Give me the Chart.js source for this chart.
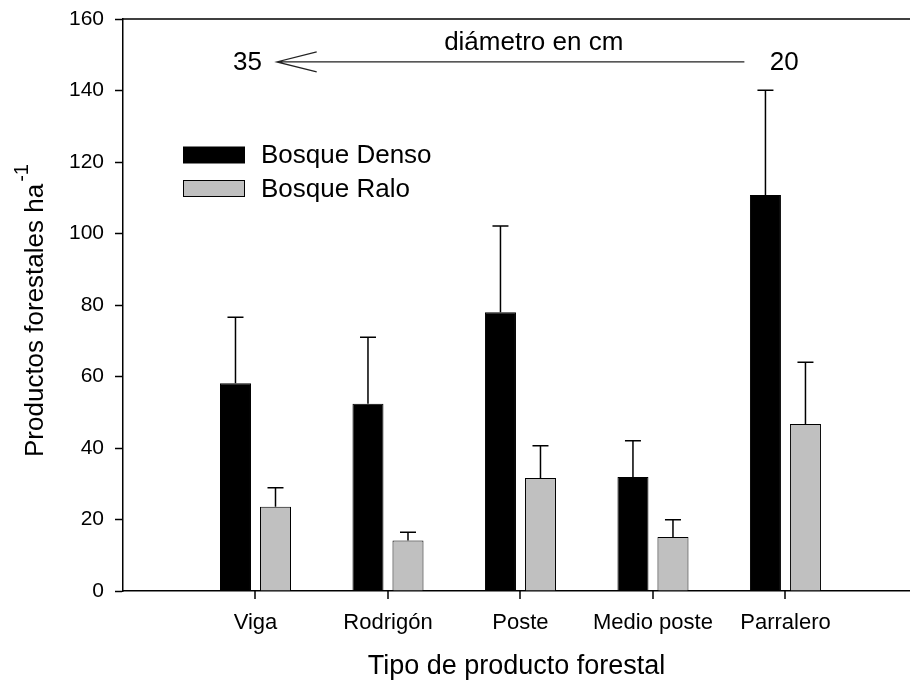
<!DOCTYPE html>
<html>
<head>
<meta charset="utf-8">
<script src="https://cdn.jsdelivr.net/npm/chart.js@4"></script>
<style>
  html, body { margin: 0; padding: 0; background: #fff; }
  canvas { display: block; }
</style>
</head>
<body>
<canvas id="chart" width="910" height="684"></canvas>
<script>
var categories = ['Viga', 'Rodrigón', 'Poste', 'Medio poste', 'Parralero'];
var densoMean = [58.1, 52.4, 78.0, 31.9, 110.8];
var densoErr = [18.5, 18.6, 24.1, 10.1, 29.3];
var raloMean = [23.6, 14.1, 31.6, 15.1, 46.7];
var raloErr = [5.3, 2.3, 9.0, 4.8, 17.3];
var yTicks = [0, 20, 40, 60, 80, 100, 120, 140, 160];

var FONT = '"Liberation Sans", Arial, sans-serif';

function points(vals) {
    return vals.map(function (v, i) { return { x: i + 1, y: v }; });
}

// upper error bars only, cap on top
var errorBars = {
    id: 'errorBars',
    afterDatasetsDraw: function (chart) {
        var ctx = chart.ctx;
        var yScale = chart.scales.y;
        ctx.save();
        ctx.strokeStyle = '#000';
        ctx.lineWidth = 1.5;
        chart.data.datasets.forEach(function (ds, di) {
            var meta = chart.getDatasetMeta(di);
            meta.data.forEach(function (bar, i) {
                var top = yScale.getPixelForValue(ds.data[i].y + ds.errors[i]);
                ctx.beginPath();
                ctx.moveTo(bar.x, bar.y);
                ctx.lineTo(bar.x, top);
                ctx.moveTo(bar.x - 8, top);
                ctx.lineTo(bar.x + 8, top);
                ctx.stroke();
            });
        });
        ctx.restore();
    }
};

var extras = {
    id: 'extras',
    afterDraw: function (chart) {
        var ctx = chart.ctx;
        var a = chart.chartArea;
        var xs = chart.scales.x, ys = chart.scales.y;
        ctx.save();

        // top frame line
        ctx.strokeStyle = '#000';
        ctx.lineWidth = 1.5;
        ctx.beginPath();
        ctx.moveTo(a.left, a.top);
        ctx.lineTo(a.right, a.top);
        ctx.stroke();

        // category tick marks below the axis
        ctx.lineWidth = 1.5;
        ctx.beginPath();
        categories.forEach(function (c, i) {
            var tx = Math.round(xs.getPixelForValue(i + 1));
            ctx.moveTo(tx, a.bottom);
            ctx.lineTo(tx, a.bottom + 8);
        });
        ctx.stroke();

        // diameter arrow annotation
        var ay = ys.getPixelForValue(148);
        var x0 = xs.getPixelForValue(1.16), x1 = xs.getPixelForValue(4.69);
        ctx.strokeStyle = '#222';
        ctx.lineWidth = 1.2;
        ctx.beginPath();
        ctx.moveTo(x1, ay);
        ctx.lineTo(x0, ay);
        ctx.moveTo(x0 + 40, ay - 10);
        ctx.lineTo(x0, ay);
        ctx.lineTo(x0 + 40, ay + 10);
        ctx.stroke();

        ctx.fillStyle = '#000';
        ctx.font = '26px ' + FONT;
        ctx.textAlign = 'center';
        ctx.textBaseline = 'middle';
        ctx.fillText('35', xs.getPixelForValue(0.94), ay + 1);
        ctx.fillText('20', xs.getPixelForValue(4.99), ay + 1);
        ctx.fillText('diámetro en cm', xs.getPixelForValue(3.1), ys.getPixelForValue(153.4));

        // legend
        var items = [['Bosque Denso', '#000000', 155], ['Bosque Ralo', '#c0c0c0', 188.5]];
        ctx.textAlign = 'left';
        items.forEach(function (it) {
            ctx.fillStyle = it[1];
            ctx.fillRect(183.5, it[2] - 8, 61, 16);
            ctx.strokeStyle = '#000';
            ctx.lineWidth = 1;
            ctx.strokeRect(183.5, it[2] - 8, 61, 16);
            ctx.fillStyle = '#000';
            ctx.fillText(it[0], 261, it[2] + 1);
        });

        // y axis title with superscript
        ctx.translate(43, 457);
        ctx.rotate(-Math.PI / 2);
        ctx.textBaseline = 'alphabetic';
        var main = 'Productos forestales ha';
        ctx.font = '26px ' + FONT;
        var mainW = ctx.measureText(main).width;
        ctx.textAlign = 'left';
        ctx.fillText(main, 0, 0);
        ctx.font = '20px ' + FONT;
        ctx.fillText('-1', mainW + 2, -15);
        ctx.restore();
    }
};

new Chart(document.getElementById('chart'), {
    type: 'bar',
    data: {
        datasets: [{
            label: 'Bosque Denso',
            data: points(densoMean),
            errors: densoErr,
            backgroundColor: '#000000',
            borderColor: '#000000',
            borderWidth: 1
        }, {
            label: 'Bosque Ralo',
            data: points(raloMean),
            errors: raloErr,
            backgroundColor: '#c0c0c0',
            borderColor: '#000000',
            borderWidth: 1
        }]
    },
    options: {
        responsive: false,
        animation: false,
        categoryPercentage: 0.604,
        barPercentage: 0.775,
        layout: { padding: { left: 0, top: 19, right: 0, bottom: 0 } },
        plugins: {
            legend: { display: false },
            tooltip: { enabled: false }
        },
        scales: {
            x: {
                type: 'linear',
                min: 0,
                max: 5.94,
                offset: false,
                afterBuildTicks: function (s) {
                    s.ticks = categories.map(function (c, i) { return { value: i + 1 }; });
                },
                afterFit: function (s) {
                    s.height = 93;
                    s.paddingLeft = 0;
                    s.paddingRight = 0;
                },
                ticks: {
                    autoSkip: false,
                    maxRotation: 0,
                    padding: 19,
                    color: '#000',
                    font: { family: FONT, size: 22 },
                    callback: function (v) { return categories[v - 1] || ''; }
                },
                grid: {
                    offset: false,
                    drawOnChartArea: false,
                    drawTicks: false
                },
                border: { color: '#000', width: 1.5 },
                title: {
                    display: true,
                    text: 'Tipo de producto forestal',
                    color: '#000',
                    font: { family: FONT, size: 27 },
                    padding: { top: 0, bottom: 1 }
                }
            },
            y: {
                min: 0,
                max: 160,
                afterBuildTicks: function (s) {
                    s.ticks = yTicks.map(function (v) { return { value: v }; });
                },
                afterFit: function (s) {
                    s.width = 123;
                    s.paddingTop = 0;
                    s.paddingBottom = 0;
                },
                ticks: {
                    padding: 11,
                    color: '#000',
                    font: { family: FONT, size: 21 }
                },
                grid: {
                    drawOnChartArea: false,
                    tickLength: 8,
                    tickWidth: 1.5,
                    tickColor: '#000'
                },
                border: { color: '#000', width: 1.5 }
            }
        }
    },
    plugins: [errorBars, extras]
});
</script>
</body>
</html>
